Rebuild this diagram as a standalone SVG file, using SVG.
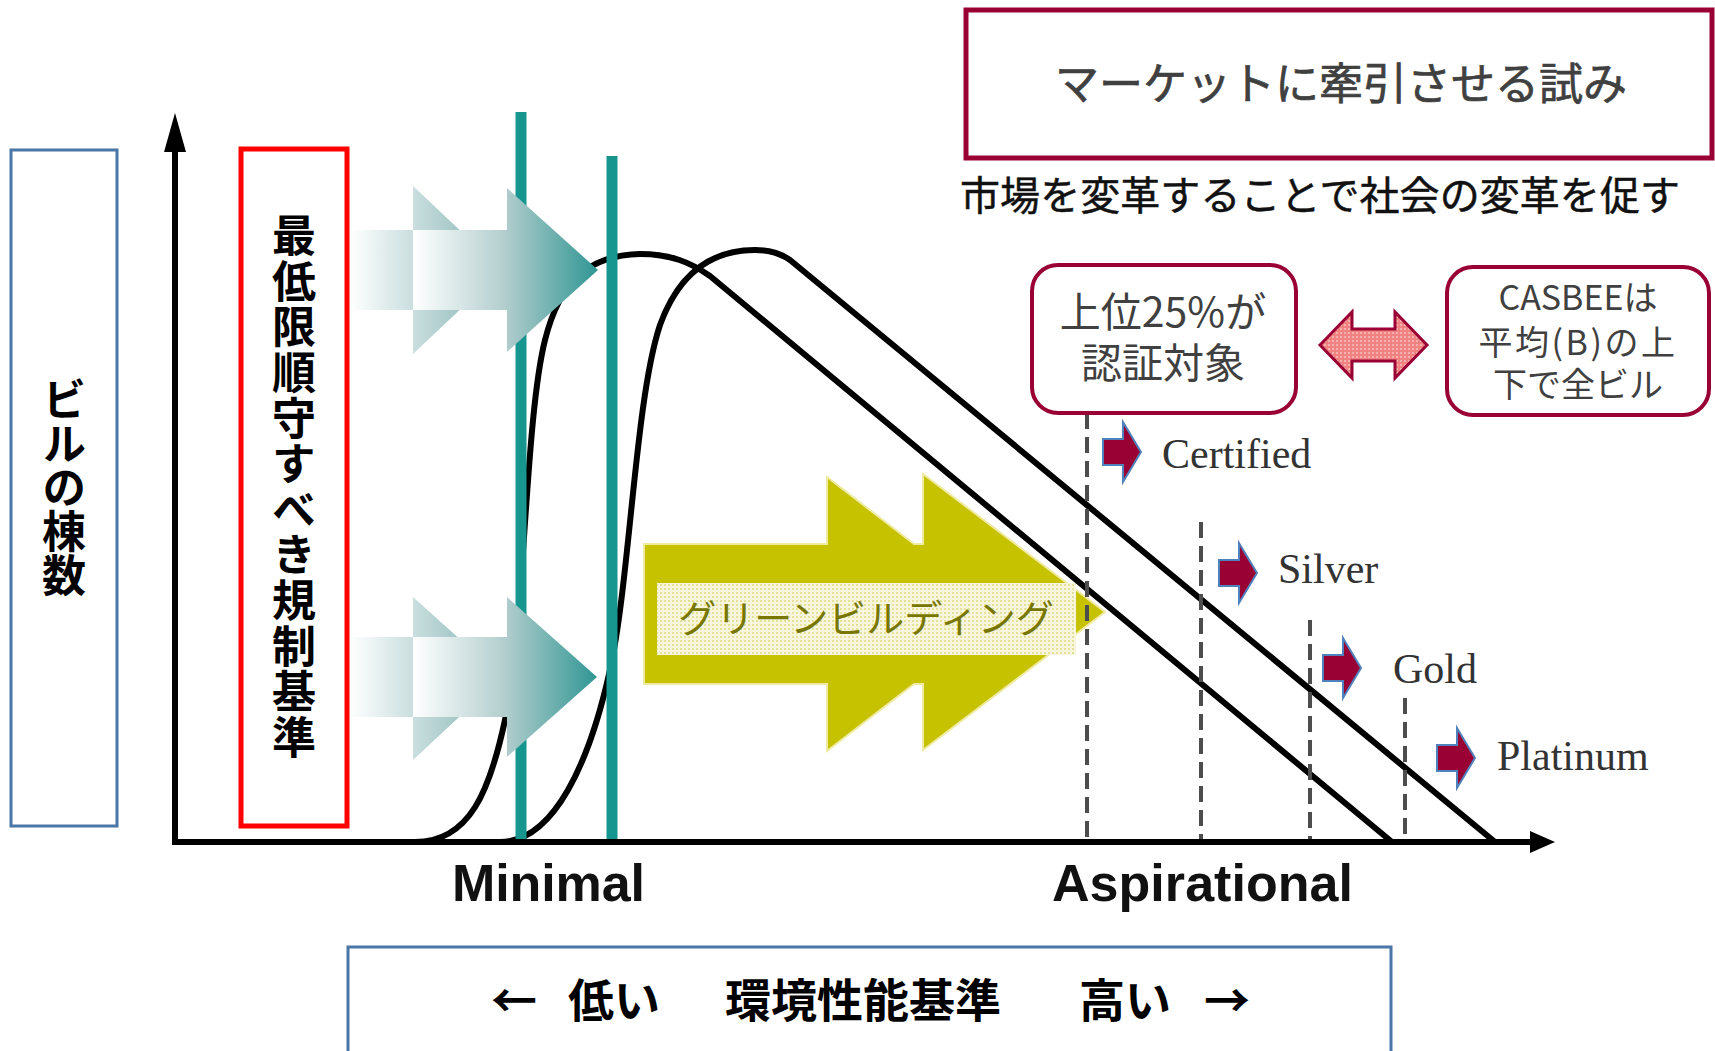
<svg xmlns="http://www.w3.org/2000/svg" width="1715" height="1051" viewBox="0 0 1715 1051">
<style>
.jp{font-family:"Noto Sans CJK JP","Noto Sans",sans-serif}
.box{fill:#fff;stroke:#990033;stroke-width:4}
.curve{fill:none;stroke:#000;stroke-width:6;stroke-linejoin:round}
.teal{stroke:#17968f;stroke-width:11}
.dash{stroke:#4d4d4d;stroke-width:4;stroke-dasharray:16 8}
.rarrow{fill:#990033;stroke:#4f81bd;stroke-width:2}
.lvl{font-family:"Liberation Serif",serif;font-size:42px;fill:#333}
.axlbl{font-family:"Liberation Sans",sans-serif;font-weight:bold;font-size:52px;fill:#111}
</style>
<defs>
<linearGradient id="gA" gradientUnits="userSpaceOnUse" x1="350" y1="0" x2="502" y2="0">
<stop offset="0" stop-color="#ffffff"/><stop offset="1" stop-color="#7fb0b0"/>
</linearGradient>
<linearGradient id="gB" gradientUnits="userSpaceOnUse" x1="413" y1="0" x2="598" y2="0">
<stop offset="0" stop-color="#ffffff"/><stop offset="0.5" stop-color="#b2cdcd"/><stop offset="1" stop-color="#2f9693"/>
</linearGradient>
<pattern id="dots" width="4" height="4" patternUnits="userSpaceOnUse">
<rect width="4" height="4" fill="#f7f6dc"/><rect width="2" height="2" fill="#e4e19a"/>
</pattern>
<pattern id="pdots" width="4" height="4" patternUnits="userSpaceOnUse">
<rect width="4" height="4" fill="#f08282"/><rect width="2" height="2" fill="#f7b0b0"/>
</pattern>
</defs>

<g id="green-building">
<polygon points="644,544 827,544 827,477 914,544 923,544 923,474 1105,612 923,750 923,684 914,684 827,751 827,684 644,684" fill="#c6c200" stroke="#eeeaa0" stroke-width="2"/>
<rect x="657" y="583" width="419" height="72" fill="url(#dots)"/>
<text class="jp" x="866" y="632" font-size="38" fill="#777700" text-anchor="middle">グリーンビルディング</text>
</g>

<g id="connectors">
<path class="curve" d="M415 842 C470 842 490 790 505 720 C525 620 525 420 545 340 C560 280 590 255 640 254 C670 254 690 262 710 276 L1392 842"/>
<path class="curve" d="M500 842 C555 842 590 760 610 670 C630 580 635 400 660 325 C680 270 715 250 755 250 C770 250 780 253 790 260 L1495 842"/>
<line class="teal" x1="521" y1="112" x2="521" y2="842"/>
<line class="teal" x1="612" y1="156" x2="612" y2="842" stroke-width="10"/>
<line class="dash" x1="1087" y1="413" x2="1087" y2="840"/>
<line class="dash" x1="1201" y1="522" x2="1201" y2="840"/>
<line class="dash" x1="1310" y1="620" x2="1310" y2="840"/>
<line class="dash" x1="1405" y1="698" x2="1405" y2="840"/>
<line x1="175" y1="845" x2="175" y2="140" stroke="#000" stroke-width="6"/>
<polygon points="175,113 186,152 164,152" fill="#000"/>
<line x1="172" y1="842" x2="1535" y2="842" stroke="#000" stroke-width="6"/>
<polygon points="1555,842 1530,831 1530,853" fill="#000"/>
</g>

<g id="regulation-arrows">
<polygon points="350,230 413,230 413,186 502,270 413,354 413,310 350,310" fill="url(#gA)"/>
<polygon points="413,230 507,230 507,188 598,270 507,352 507,310 413,310" fill="url(#gB)"/>
<polygon points="350,637 413,637 413,597 502,677 413,760 413,717 350,717" fill="url(#gA)"/>
<polygon points="413,637 507,637 507,597 597,677 507,757 507,717 413,717" fill="url(#gB)"/>
</g>

<g id="y-label">
<rect x="11" y="150" width="106" height="676" fill="#fff" stroke="#4a76a8" stroke-width="3"/>
<text class="jp" x="64" y="487" font-size="44" font-weight="bold" fill="#000" writing-mode="vertical-rl" text-anchor="middle">ビルの棟数</text>
</g>

<g id="regulation-box">
<rect x="241" y="149" width="106" height="677" fill="#fff" stroke="#ff0000" stroke-width="5"/>
<text class="jp" x="294" y="487" font-size="44" font-weight="bold" fill="#000" writing-mode="vertical-rl" text-anchor="middle" letter-spacing="1.6">最低限順守すべき規制基準</text>
</g>

<g id="market-box">
<rect x="966" y="10" width="746" height="148" fill="#fff" stroke="#990033" stroke-width="5"/>
<text class="jp" x="1341" y="100" font-size="44" fill="#404040" stroke="#404040" stroke-width="0.7" text-anchor="middle">マーケットに牽引させる試み</text>
</g>

<g id="market-sub">
<text class="jp" x="960" y="210" font-size="40" fill="#111" stroke="#111" stroke-width="0.5" textLength="720">市場を変革することで社会の変革を促す</text>
</g>

<g id="top25-box">
<rect class="box" x="1032" y="265" width="264" height="148" rx="26"/>
<text class="jp" x="1163" y="327" font-size="41" fill="#404040" text-anchor="middle">上位25%が</text>
<text class="jp" x="1163" y="378" font-size="41" fill="#404040" text-anchor="middle">認証対象</text>
</g>

<g id="double-arrow">
<polygon points="1320,345 1352,312 1352,329 1395,329 1395,312 1427,345 1395,378 1395,361 1352,361 1352,378" fill="url(#pdots)" stroke="#990033" stroke-width="3"/>
</g>

<g id="casbee-box">
<rect class="box" x="1447" y="267" width="262" height="148" rx="26"/>
<text class="jp" x="1578" y="310" font-size="34" fill="#404040" text-anchor="middle">CASBEEは</text>
<text class="jp" x="1578" y="355" font-size="34" fill="#404040" text-anchor="middle" letter-spacing="2.5">平均(B)の上</text>
<text class="jp" x="1578" y="397" font-size="34" fill="#404040" text-anchor="middle">下で全ビル</text>
</g>

<g id="certified">
<polygon class="rarrow" points="1103,439 1123,439 1123,422 1141,452 1123,482 1123,465 1103,465"/>
<text class="lvl" x="1162" y="468">Certified</text>
</g>
<g id="silver">
<polygon class="rarrow" points="1219,560 1239,560 1239,543 1257,573 1239,603 1239,586 1219,586"/>
<text class="lvl" x="1278" y="583">Silver</text>
</g>
<g id="gold">
<polygon class="rarrow" points="1323,655 1343,655 1343,638 1361,668 1343,698 1343,681 1323,681"/>
<text class="lvl" x="1393" y="683">Gold</text>
</g>
<g id="platinum">
<polygon class="rarrow" points="1437,745 1457,745 1457,728 1475,758 1457,788 1457,771 1437,771"/>
<text class="lvl" x="1497" y="770">Platinum</text>
</g>

<g id="axis-labels">
<text class="axlbl" x="452" y="901" textLength="193">Minimal</text>
<text class="axlbl" x="1052" y="901" textLength="301">Aspirational</text>
</g>

<g id="x-label">
<rect x="348" y="947" width="1043" height="110" fill="#fff" stroke="#4a76a8" stroke-width="3"/>
<text class="jp" font-size="46" font-weight="bold" fill="#000" y="1017"><tspan x="491">←</tspan><tspan x="568">低い</tspan><tspan x="725">環境性能基準</tspan><tspan x="1079">高い</tspan><tspan x="1204">→</tspan></text>
</g>
</svg>
